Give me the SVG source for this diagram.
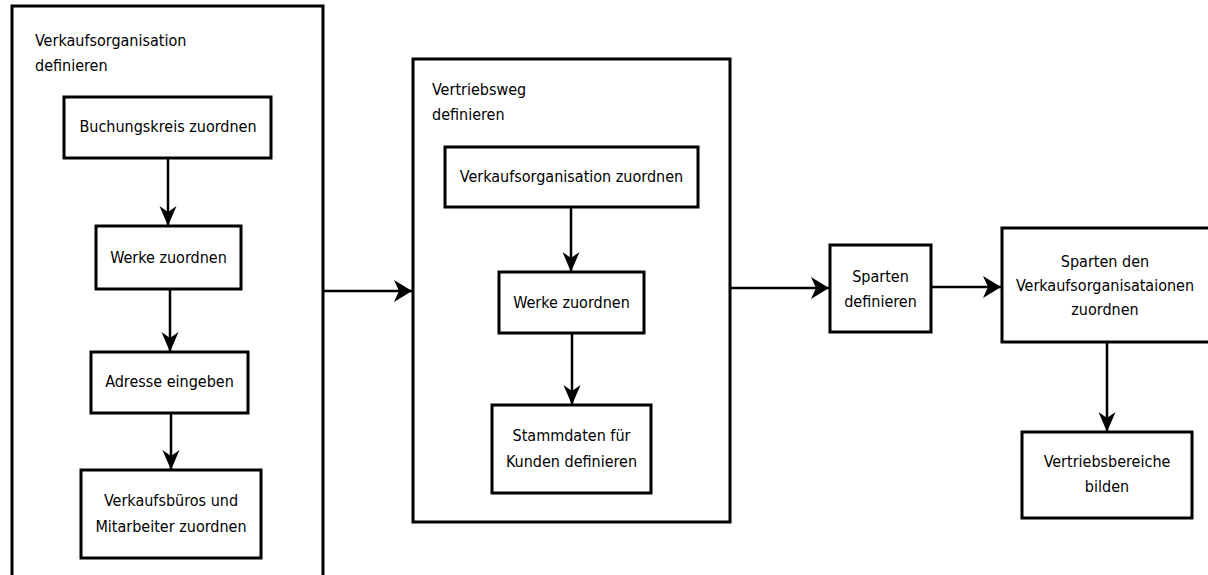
<svg xmlns="http://www.w3.org/2000/svg" width="1208" height="575" viewBox="0 0 1208 575">
  <style>
    .box { fill: #ffffff; stroke: #000000; stroke-width: 3; }
    .lbl { font-family: "DejaVu Sans Condensed", "DejaVu Sans", sans-serif; font-stretch: condensed; font-size: 16px; fill: #000000; }
    .mid { text-anchor: middle; }
    .edge { fill: none; stroke: #000000; stroke-width: 2.5; }
    .v { marker-end: url(#headV); }
    .h { marker-end: url(#headH); }
  </style>
  <defs>
    <!-- notched arrowheads; the horizontal ones are a bit taller than the vertical ones -->
    <marker id="headV" markerUnits="userSpaceOnUse" markerWidth="22" markerHeight="20" viewBox="0 -10 20 20" refX="20" refY="0" orient="auto">
      <path d="M0,-8.5 L20,0 L0,8.5 L6,0 Z" fill="#000000"/>
    </marker>
    <marker id="headH" markerUnits="userSpaceOnUse" markerWidth="20" markerHeight="24" viewBox="0 -12 18 24" refX="18" refY="0" orient="auto">
      <path d="M0,-11 L18,0 L0,11 L5,0 Z" fill="#000000"/>
    </marker>
  </defs>

  <rect width="1208" height="575" fill="#ffffff"/>

  <!-- sales organisation container -->
  <g id="verkaufsorganisation">
    <rect class="box" x="12" y="6" width="311" height="600"/>
    <text class="lbl" x="35" y="46">Verkaufsorganisation</text>
    <text class="lbl" x="35" y="71">definieren</text>
  </g>
  <g id="buchungskreis">
    <rect class="box" x="64" y="97" width="207" height="61"/>
    <text class="lbl mid" x="168" y="132">Buchungskreis zuordnen</text>
  </g>
  <g id="werke1">
    <rect class="box" x="96" y="226" width="145" height="63"/>
    <text class="lbl mid" x="168.5" y="263">Werke zuordnen</text>
  </g>
  <g id="adresse">
    <rect class="box" x="91" y="352" width="157" height="61"/>
    <text class="lbl mid" x="169.5" y="387">Adresse eingeben</text>
  </g>
  <g id="verkaufsbueros">
    <rect class="box" x="81" y="470" width="180" height="88"/>
    <text class="lbl mid" x="171" y="506">Verkaufsbüros und</text>
    <text class="lbl mid" x="171" y="532">Mitarbeiter zuordnen</text>
  </g>

  <!-- distribution channel container -->
  <g id="vertriebsweg">
    <rect class="box" x="413" y="59" width="317" height="463"/>
    <text class="lbl" x="432" y="95">Vertriebsweg</text>
    <text class="lbl" x="432" y="120">definieren</text>
  </g>
  <g id="vkorg-zuordnen">
    <rect class="box" x="445" y="147" width="253" height="60"/>
    <text class="lbl mid" x="571.5" y="182">Verkaufsorganisation zuordnen</text>
  </g>
  <g id="werke2">
    <rect class="box" x="499" y="272" width="145" height="61"/>
    <text class="lbl mid" x="571.5" y="308">Werke zuordnen</text>
  </g>
  <g id="stammdaten">
    <rect class="box" x="492" y="405" width="159" height="88"/>
    <text class="lbl mid" x="571.5" y="441">Stammdaten für</text>
    <text class="lbl mid" x="571.5" y="467">Kunden definieren</text>
  </g>

  <!-- divisions -->
  <g id="sparten">
    <rect class="box" x="830" y="245" width="101" height="87"/>
    <text class="lbl mid" x="880.5" y="282">Sparten</text>
    <text class="lbl mid" x="880.5" y="307">definieren</text>
  </g>
  <g id="sparten-zuordnen">
    <rect class="box" x="1002" y="228" width="210" height="114"/>
    <text class="lbl mid" x="1105" y="267">Sparten den</text>
    <text class="lbl mid" x="1105" y="291">Verkaufsorganisataionen</text>
    <text class="lbl mid" x="1105" y="315">zuordnen</text>
  </g>
  <g id="vertriebsbereiche">
    <rect class="box" x="1022" y="432" width="170" height="86"/>
    <text class="lbl mid" x="1107" y="467">Vertriebsbereiche</text>
    <text class="lbl mid" x="1107" y="492">bilden</text>
  </g>

  <!-- connectors -->
  <g id="connectors">
    <path class="edge v" d="M168,158 L168,226"/>
    <path class="edge v" d="M170,289 L170,352"/>
    <path class="edge v" d="M171,413 L171,470"/>
    <path class="edge h" d="M323,291 L412,291"/>
    <path class="edge v" d="M571,207 L571,272"/>
    <path class="edge v" d="M572,333 L572,405"/>
    <path class="edge h" d="M730,288 L829,288"/>
    <path class="edge h" d="M931,287 L1001,287"/>
    <path class="edge v" d="M1107,342 L1107,432"/>
  </g>
</svg>
